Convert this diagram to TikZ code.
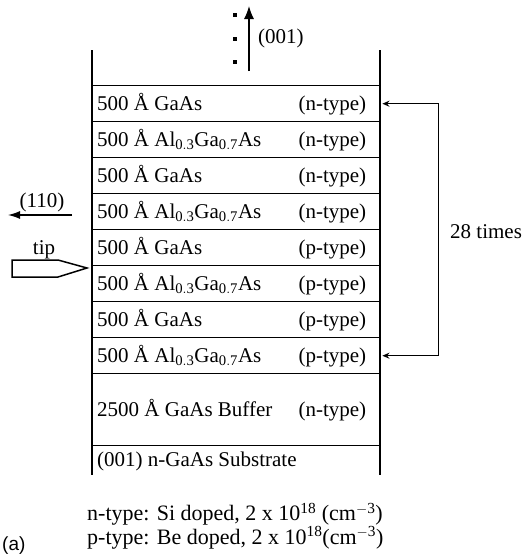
\documentclass[tikz,border=0pt]{standalone}
\usepackage{fontspec}
\setmainfont{Liberation Serif}
\setsansfont{Liberation Sans}
\usetikzlibrary{arrows.meta}
\tikzset{
  wall/.style={line width=1.6pt},
  layer/.style={draw, line width=1.4pt, minimum width=288pt, inner sep=0pt, anchor=north west},
  ltxt/.style={anchor=west, inner sep=0pt, font=\fontsize{21}{21}\selectfont},
  lab/.style={inner sep=0pt, font=\fontsize{21}{21}\selectfont},
  arr/.style={line width=1.3pt},
  sq/.style={fill=black, minimum size=3.5pt, inner sep=0pt},
}
\newcommand{\AlGa}{Al$_{\mathrm{0.3}}$Ga$_{\mathrm{0.7}}$As}
\begin{document}
\begin{tikzpicture}[x=1pt,y=-1pt]
\useasboundingbox (0,0) rectangle (529,555);
% layers
\foreach \i/\y in {1/85,2/121,3/157,4/193,5/229,6/265,7/301,8/337}{
  \node[layer, minimum height=36pt] (L\i) at (92,\y) {};
}
\node[layer, minimum height=72pt] (B) at (92,373) {};
\coordinate (S) at (92,445);
% walls
\coordinate (wlt) at (92,50);
\coordinate (wlb) at (92,475);
\coordinate (wrt) at (380,50);
\coordinate (wrb) at (380,475);
\draw[wall] (wlt) -- (wlb);
\draw[wall] (wrt) -- (wrb);
% layer texts
\node[ltxt] (T1) at ([xshift=5pt]L1.west) {\hbox to 269pt{500 Å GaAs\hfil(n-type)}};
\node[ltxt] (T2) at ([xshift=5pt]L2.west) {\hbox to 269pt{500 Å \AlGa\hfil(n-type)}};
\node[ltxt] (T3) at ([xshift=5pt]L3.west) {\hbox to 269pt{500 Å GaAs\hfil(n-type)}};
\node[ltxt] (T4) at ([xshift=5pt]L4.west) {\hbox to 269pt{500 Å \AlGa\hfil(n-type)}};
\node[ltxt] (T5) at ([xshift=5pt]L5.west) {\hbox to 269pt{500 Å GaAs\hfil(p-type)}};
\node[ltxt] (T6) at ([xshift=5pt]L6.west) {\hbox to 269pt{500 Å \AlGa\hfil(p-type)}};
\node[ltxt] (T7) at ([xshift=5pt]L7.west) {\hbox to 269pt{500 Å GaAs\hfil(p-type)}};
\node[ltxt] (T8) at ([xshift=5pt]L8.west) {\hbox to 269pt{500 Å \AlGa\hfil(p-type)}};
\node[ltxt] (TB) at ([xshift=5pt]B.west) {\hbox to 269pt{2500 Å GaAs Buffer\hfil(n-type)}};
\node[ltxt] (TS) at (97,461) {(001) n-GaAs Substrate};
% growth direction
\coordinate (ub) at (249,71);
\coordinate (ut) at (249,6);
\draw[arr, -{Latex[length=13pt,width=10pt]}] (ub) -- (ut);
\node[lab, anchor=west] (g) at (258,38) {(001)};
\node[sq] (d1) at (235,15) {};
\node[sq] (d2) at (235,39) {};
\node[sq] (d3) at (235,62) {};
% repeat bracket
\draw[arr, {Stealth[length=7pt,width=6pt]}-{Stealth[length=7pt,width=6pt]}]
  ([xshift=1pt]L1.east) -- ++(56,0) |- ([xshift=1pt]L8.east);
\node[lab, anchor=west] (rep) at (450,232) {28 times};
% (110) direction
\coordinate (a1) at (72,215);
\coordinate (a2) at (8,215);
\draw[arr, -{Latex[length=12pt,width=8pt]}] (a1) -- (a2);
\node[lab] (h) at (42,202) {(110)};
% tip
\node[lab] (tl) at (44,250) {tip};
\draw[line width=1.5pt] (12,260) coordinate (p1) -- (58,260) coordinate (p2) -- (87,268) coordinate (p3) -- (58,277) coordinate (p4) -- (12,277) coordinate (p5) -- cycle;
% notes
\node[anchor=north west, inner sep=0pt, align=left, font=\fontsize{22}{18}\selectfont] (n) at (87,503)
  {n-type: Si doped, 2 x 10$^{\mathrm{18}}$ (cm$^{\mathrm{-3}}$)\\
   p-type: Be doped, 2 x 10$^{\mathrm{18}}$(cm$^{\mathrm{-3}}$)};
\node[anchor=west, inner sep=0pt, font=\sffamily\fontsize{19}{19}\selectfont] (a) at (2,546) {(a)};
\end{tikzpicture}
\end{document}
